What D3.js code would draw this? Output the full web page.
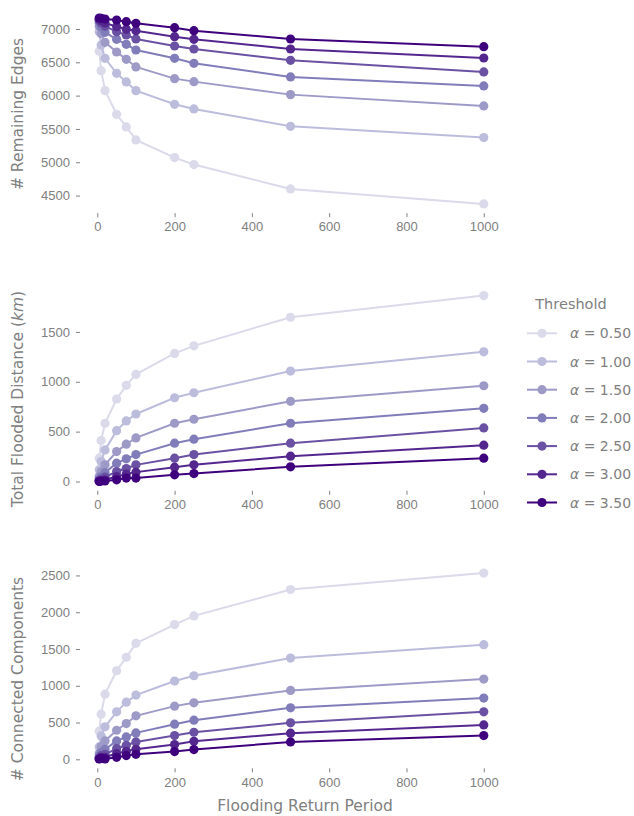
<!DOCTYPE html>
<html>
<head>
<meta charset="utf-8">
<script src="https://cdn.jsdelivr.net/npm/d3@7"></script>
<style>
  body { margin: 0; background: #fff; }
  svg { font-family: "DejaVu Sans", sans-serif; }
  .tick text { fill: #808080; font-size: 13px; }
  .tick line { stroke: #808080; }
  .axis-label { fill: #808080; font-size: 15.5px; }
</style>
</head>
<body>
<div id="chart"></div>
<script>
// flooding return periods
var periods = [5, 10, 20, 50, 75, 100, 200, 250, 500, 1000];
var thresholds = ["0.50", "1.00", "1.50", "2.00", "2.50", "3.00", "3.50"];
var colors = ["#dadaeb", "#bcbddc", "#9e9ac8", "#807dba", "#6a51a3", "#54278f", "#3f007d"];

// remaining edges, one row per threshold
var edges = [
  [6665, 6375, 6075, 5720, 5530, 5335, 5070, 4965, 4600, 4375],
  [6960, 6760, 6560, 6335, 6205, 6075, 5870, 5800, 5540, 5370],
  [7040, 6930, 6800, 6655, 6545, 6430, 6255, 6210, 6015, 5845],
  [7100, 7030, 6950, 6845, 6770, 6685, 6560, 6485, 6280, 6145],
  [7130, 7090, 7040, 6960, 6910, 6850, 6745, 6700, 6530, 6355],
  [7150, 7125, 7090, 7035, 6995, 6975, 6885, 6845, 6700, 6565],
  [7165, 7160, 7150, 7135, 7110, 7085, 7020, 6975, 6850, 6735]
];

// total flooded distance (km)
var distance = [
  [234, 410, 584, 827, 964, 1074, 1284, 1360, 1647, 1864],
  [117, 200, 317, 510, 607, 677, 840, 890, 1107, 1300],
  [50, 100, 167, 300, 374, 437, 584, 624, 804, 960],
  [24, 50, 90, 184, 227, 270, 384, 424, 584, 734],
  [10, 24, 44, 100, 130, 167, 234, 270, 384, 537],
  [4, 10, 17, 50, 74, 94, 144, 167, 254, 364],
  [0, 4, 5, 17, 34, 34, 67, 80, 147, 234]
];

// connected components
var components = [
  [382, 614, 886, 1204, 1386, 1577, 1832, 1950, 2309, 2532],
  [168, 318, 441, 645, 777, 873, 1064, 1136, 1377, 1559],
  [78, 173, 250, 395, 486, 591, 723, 768, 937, 1091],
  [37, 91, 136, 250, 304, 359, 477, 532, 700, 832],
  [18, 50, 68, 146, 191, 236, 323, 368, 496, 645],
  [9, 27, 27, 78, 109, 136, 200, 245, 355, 468],
  [4, 14, 5, 27, 50, 68, 105, 132, 236, 323]
];

var xTicks = [0, 200, 400, 600, 800, 1000];
var edgeTicks = [4500, 5000, 5500, 6000, 6500, 7000];
var distTicks = [0, 500, 1000, 1500];
var compTicks = [0, 500, 1000, 1500, 2000, 2500];

var width = 634, height = 816;
var left = 80, right = 503, panelH = 204.5;

var svg = d3.select("#chart").append("svg")
  .attr("width", width)
  .attr("height", height);

// matplotlib-ish 5% margins
function padded(ext) {
  var m = (ext[1] - ext[0]) * 0.05;
  return [ext[0] - m, ext[1] + m];
}

var x = d3.scaleLinear()
  .domain(padded(d3.extent(periods)))
  .range([left, right]);

var panels = [
  { data: edges, ticks: edgeTicks, top: 8.7, labelY: 114, label: "# Remaining Edges" },
  { data: distance, ticks: distTicks, top: 286.3, labelY: 399, label: "Total Flooded Distance" },
  { data: components, ticks: compTicks, top: 563.8, labelY: 679, label: "# Connected Components" }
];

panels.forEach(function(p, pi) {
  var all = d3.merge(p.data);
  var y = d3.scaleLinear()
    .domain(padded(d3.extent(all)))
    .range([p.top + panelH, p.top]);

  var g = svg.append("g");

  g.append("g")
    .attr("transform", "translate(0," + (p.top + panelH) + ")")
    .call(d3.axisBottom(x).tickValues(xTicks).tickSize(4).tickPadding(5).tickFormat(d3.format("d")))
    .call(function(a) { a.select(".domain").remove(); });

  g.append("g")
    .attr("transform", "translate(" + left + ",0)")
    .call(d3.axisLeft(y).tickValues(p.ticks).tickSize(4).tickPadding(6).tickFormat(d3.format("d")))
    .call(function(a) { a.select(".domain").remove(); });

  var line = d3.line()
    .x(function(d, i) { return x(periods[i]); })
    .y(function(d) { return y(d); });

  p.data.forEach(function(series, si) {
    var s = g.append("g");
    s.append("path")
      .datum(series)
      .attr("d", line)
      .attr("fill", "none")
      .attr("stroke", colors[si])
      .attr("stroke-width", 2);
    s.selectAll("circle")
      .data(series)
      .enter()
      .append("circle")
      .attr("cx", function(d, i) { return x(periods[i]); })
      .attr("cy", function(d) { return y(d); })
      .attr("r", 4.6)
      .attr("fill", colors[si]);
  });

  var lab = g.append("text")
    .attr("class", "axis-label")
    .attr("text-anchor", "middle")
    .attr("transform", "translate(23," + p.labelY + ") rotate(-90)")
    .text(p.label);
  if (pi == 1) {
    lab.append("tspan").text(" (");
    lab.append("tspan").attr("font-style", "italic").text("km");
    lab.append("tspan").text(")");
  }
});

svg.append("text")
  .attr("class", "axis-label")
  .attr("text-anchor", "middle")
  .attr("x", 305)
  .attr("y", 811)
  .text("Flooding Return Period");

// legend
var legend = svg.append("g");
legend.append("text")
  .attr("class", "axis-label")
  .attr("x", 571)
  .attr("y", 308.5)
  .attr("text-anchor", "middle")
  .style("font-size", "14.5px")
  .text("Threshold");

thresholds.forEach(function(t, i) {
  var ly = 333.3 + i * 28.2;
  legend.append("line")
    .attr("x1", 527).attr("x2", 557)
    .attr("y1", ly).attr("y2", ly)
    .attr("stroke", colors[i])
    .attr("stroke-width", 2);
  legend.append("circle")
    .attr("cx", 542).attr("cy", ly)
    .attr("r", 4.6)
    .attr("fill", colors[i]);
  var tx = legend.append("text")
    .attr("x", 570)
    .attr("y", ly + 5)
    .attr("fill", "#808080")
    .style("font-size", "14px");
  tx.append("tspan").attr("font-style", "italic").text("α");
  tx.append("tspan").text(" = " + t);
});
</script>
</body>
</html>
